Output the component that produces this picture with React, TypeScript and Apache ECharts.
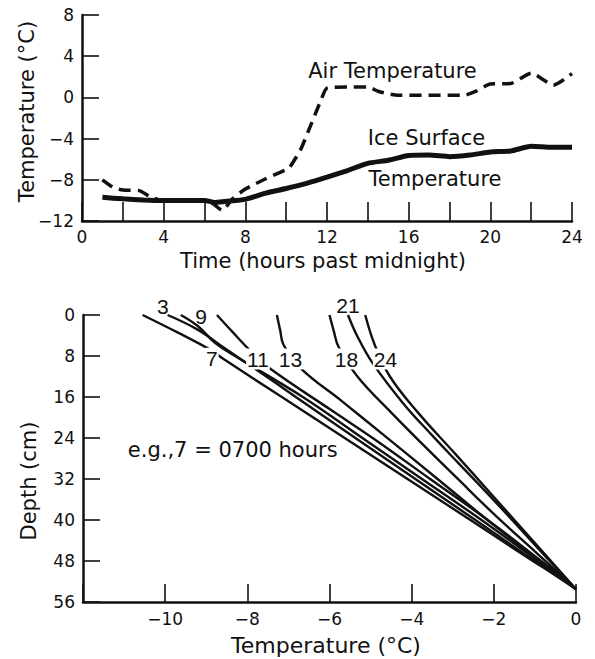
import React, { useEffect, useRef } from 'react';
import * as echarts from 'echarts';

// ---- Top panel: temperature vs time ----
const airHours = [1, 1.5, 2, 2.8, 3.3, 3.7, 4, 5, 6, 6.4, 6.85, 7.4, 8, 9, 10, 10.2, 10.7, 11.1, 11.7, 12, 13, 14, 14.5, 15, 15.5, 18.7, 19.3, 20, 21, 22, 23.1, 24];
const airTemp = [-8, -8.7, -9.0, -9.05, -9.6, -9.9, -10, -10, -10.05, -10.3, -10.95, -9.8, -8.9, -7.9, -7.0, -6.7, -5.1, -3.2, -0.3, 0.9, 1.0, 1.0, 0.6, 0.35, 0.2, 0.2, 0.6, 1.3, 1.35, 2.35, 1.2, 2.3];
const iceHours = [1, 2, 3, 4, 5, 6, 6.5, 7, 8, 9, 10, 11, 12, 13, 14, 15, 16, 17, 18, 19, 20, 21, 22, 23, 24];
const iceTemp = [-9.7, -9.85, -9.95, -10, -10, -10, -10.2, -10.1, -9.9, -9.3, -8.85, -8.35, -7.75, -7.1, -6.4, -6.1, -5.65, -5.6, -5.75, -5.6, -5.3, -5.2, -4.75, -4.85, -4.85];

// ---- Bottom panel: depth profiles [temperature, depth] ----
const curve3 = [[-9.94, 0], [-9.2, 2.9], [-8.55, 6.5], [-7.9, 10], [-6.82, 16], [-5.37, 24], [-3.91, 32], [-2.45, 40], [-1.0, 48], [-0.55, 50.2], [0, 53.5]];
const curve7 = [[-10.55, 0], [-9.7, 3.4], [-8.9, 6.8], [-8.55, 8.75], [-7.16, 16], [-5.63, 24], [-4.1, 32], [-2.57, 40], [-1.05, 48], [-0.62, 50.2], [0, 53.5]];
const curve9 = [[-9.62, 0], [-9.2, 2.2], [-8.78, 5.5], [-8.3, 8], [-6.65, 16], [-5.2, 24], [-3.75, 32], [-2.3, 40], [-0.92, 48], [-0.52, 50.2], [0, 53.5]];
const curve11 = [[-8.74, 0], [-8.35, 3.4], [-7.95, 6.8], [-7.49, 10.2], [-5.97, 18.5], [-4.95, 24], [-3.55, 32], [-2.15, 40], [-0.85, 48], [-0.5, 50.2], [0, 53.5]];
const curve13 = [[-7.28, 0], [-7.2, 3], [-7.12, 5.8], [-6.7, 10.4], [-5.7, 16.8], [-4.7, 23.3], [-3.4, 31.8], [-2.0, 41], [-1.0, 47.2], [0, 53.5]];
const curve18 = [[-6.0, 0], [-5.9, 3], [-5.78, 6.2], [-5.32, 12], [-4.49, 19.1], [-3.7, 25.5], [-2.9, 31.8], [-1.95, 39.2], [-0.95, 46.5], [0, 53.5]];
const curve21 = [[-5.55, 0], [-5.32, 4.2], [-4.95, 9.4], [-4.21, 17.2], [-3.5, 23.5], [-2.85, 29], [-1.9, 37], [-0.95, 45.3], [0, 53.5]];
const curve24 = [[-5.13, 0], [-4.9, 5.8], [-4.53, 12], [-3.84, 19.1], [-2.95, 27], [-2.0, 35.5], [-1.0, 44.5], [0, 53.5]];
const curves = [curve3, curve7, curve9, curve11, curve13, curve18, curve21, curve24];
const curveNames = ['3', '7', '9', '11', '13', '18', '21', '24'];

const INK = '#111';
const FONT = 'DejaVu Sans';

const minus = (v: number) => (v < 0 ? '\u2212' + Math.abs(v) : String(v));

export default function App() {
  const ref = useRef<HTMLDivElement>(null);
  useEffect(() => {
    if (!ref.current) return;
    const chart = echarts.init(ref.current, undefined, { renderer: 'svg' });
    const axisLine = { show: true, onZero: false, lineStyle: { color: INK, width: 2.5 } };
    const tick = (len: number) => ({ show: true, inside: true, length: len, lineStyle: { color: INK, width: 1.6 } });
    const label = (margin: number, fmt: (v: number) => string) => ({
      color: INK, fontSize: 17, fontFamily: FONT, margin, formatter: fmt,
    });
    const zip = (xs: number[], ys: number[]) => xs.map((x, i) => [x, ys[i]]);
    const txt = (text: string, x: number, y: number, size = 21, extra: any = {}) => ({
      type: 'text', x, y, ...extra,
      style: { text, fill: INK, fontSize: size, fontFamily: FONT, align: 'center', verticalAlign: 'middle', ...(extra.style || {}) },
    });
    const curveLabelPos: Record<string, [number, number, boolean]> = {
      '3': [162.8, 306, false], '9': [201, 316, false], '21': [348, 305, false],
      '7': [211.8, 358.3, true], '11': [258, 359, true], '13': [290.5, 359, true],
      '18': [346.5, 359, true], '24': [385.5, 359, true],
    };
    const curveLabels = curveNames.map((n) => {
      const [x, y, bg] = curveLabelPos[n];
      return {
        type: 'text', x, y, z: 10,
        style: {
          text: n, fill: INK, fontSize: 21, fontFamily: 'Liberation Sans', align: 'center', verticalAlign: 'middle',
          backgroundColor: bg ? '#fff' : undefined, padding: bg ? [0, 1] : 0,
        },
      };
    });

    chart.setOption({
      animation: false,
      backgroundColor: '#fff',
      grid: [
        { left: 82, top: 15, width: 490, height: 206 },
        { left: 83, top: 315, width: 493, height: 287 },
      ],
      xAxis: [
        {
          type: 'value', gridIndex: 0, min: 0, max: 24, interval: 2,
          axisLine, axisTick: tick(19), splitLine: { show: false },
          axisLabel: label(7, (v: number) => (v % 4 === 0 ? String(v) : '')),
        },
        {
          type: 'value', gridIndex: 1, min: -12, max: 0, interval: 2,
          axisLine, axisTick: tick(18), splitLine: { show: false },
          axisLabel: label(8, (v: number) => (v === -12 ? '' : minus(v))),
        },
      ],
      yAxis: [
        {
          type: 'value', gridIndex: 0, min: -12, max: 8, interval: 4,
          axisLine, axisTick: tick(17), splitLine: { show: false },
          axisLabel: label(8, minus),
        },
        {
          type: 'value', gridIndex: 1, min: 0, max: 56, interval: 8, inverse: true,
          axisLine, axisTick: tick(17), splitLine: { show: false },
          axisLabel: label(8, (v: number) => String(v)),
        },
      ],
      series: [
        {
          type: 'line', name: 'Air Temperature', xAxisIndex: 0, yAxisIndex: 0,
          data: zip(airHours, airTemp), symbol: 'none', smooth: 0.2,
          lineStyle: { color: INK, width: 3.5, type: [12, 7], cap: 'butt' },
        },
        {
          type: 'line', name: 'Ice Surface Temperature', xAxisIndex: 0, yAxisIndex: 0,
          data: zip(iceHours, iceTemp), symbol: 'none', smooth: 0.2,
          lineStyle: { color: INK, width: 5 },
        },
        ...curves.map((c, i) => ({
          type: 'line', name: 'Hour ' + curveNames[i], xAxisIndex: 1, yAxisIndex: 1,
          data: c, symbol: 'none', smooth: 0.4,
          lineStyle: { color: INK, width: 2.4 },
        })),
      ],
      graphic: [
        txt('Air Temperature', 392.5, 70.5),
        txt('Ice Surface', 426.5, 138),
        txt('Temperature', 435, 179),
        txt('Temperature (\u00B0C)', 27, 111.5, 21, { rotation: Math.PI / 2 }),
        txt('Time (hours past midnight)', 323, 260.5),
        txt('Temperature (\u00B0C)', 326, 645.5, 22),
        txt('Depth (cm)', 28.7, 481, 21, { rotation: Math.PI / 2 }),
        txt('e.g.,7 = 0700 hours', 232.7, 450),
        ...curveLabels,
      ],
    });
    return () => chart.dispose();
  }, []);
  return <div ref={ref} style={{ position: 'fixed', left: 0, top: 0, width: 595, height: 659, background: '#fff' }} />;
}
